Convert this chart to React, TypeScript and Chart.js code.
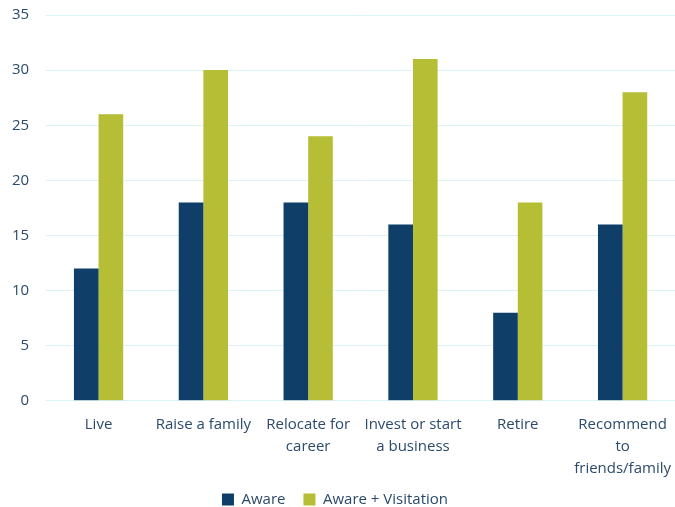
import React, { useEffect, useRef } from "react";
import { Chart, registerables } from "chart.js";

Chart.register(...registerables);

const categories: (string | string[])[] = [
  "Live",
  "Raise a family",
  ["Relocate for", "career"],
  ["Invest or start", "a business"],
  "Retire",
  ["Recommend", "to", "friends/family"],
];
const aware = [12, 18, 18, 16, 8, 16];
const awareVisitation = [26, 30, 24, 31, 18, 28];
const seriesNames = ["Aware", "Aware + Visitation"];

const FONT = "'Open Sans', 'Noto Sans', sans-serif";
const TEXT = "#2b4a6b";
const LEGEND_SHRINK = 19;

const legendShrink = {
  id: "legendShrink",
  afterInit(chart: any) {
    const lg = chart.legend;
    if (!lg) return;
    const orig = lg.fit;
    lg.fit = function (this: any) {
      orig.call(this);
      this.height = Math.max(0, this.height - LEGEND_SHRINK);
    };
  },
  afterLayout(chart: any) {
    const lg = chart.legend;
    if (!lg) return;
    lg.top -= LEGEND_SHRINK;
    lg.height += LEGEND_SHRINK;
    if (lg.adjustHitBoxes) lg.adjustHitBoxes();
  },
};

export default function App() {
  const ref = useRef<HTMLCanvasElement | null>(null);
  useEffect(() => {
    if (!ref.current) return;
    const chart = new Chart(ref.current, {
      type: "bar",
      data: {
        labels: categories,
        datasets: [
          {
            label: seriesNames[0],
            data: aware,
            backgroundColor: "#0f3f68",
            borderWidth: 0,
            categoryPercentage: 0.47,
            barPercentage: 1,
          },
          {
            label: seriesNames[1],
            data: awareVisitation,
            backgroundColor: "#b5be35",
            borderWidth: 0,
            categoryPercentage: 0.47,
            barPercentage: 1,
          },
        ],
      },
      plugins: [legendShrink],
      options: {
        animation: false,
        responsive: false,
        maintainAspectRatio: false,
        layout: { padding: { top: 0, right: 0, left: -5, bottom: -10 } },
        plugins: {
          legend: {
            position: "bottom",
            labels: {
              boxWidth: 12,
              boxHeight: 12,
              padding: 18,
              color: TEXT,
              font: { family: FONT, size: 15 },
            },
          },
          tooltip: { enabled: false },
        },
        scales: {
          x: {
            grid: { display: false, drawTicks: false },
            border: { display: false },
            ticks: {
              color: TEXT,
              font: { family: FONT, size: 15, lineHeight: 1.47 },
              maxRotation: 0,
              autoSkip: false,
              padding: 13,
            },
            afterFit: (s: any) => {
              s.paddingRight = 0;
              s.paddingLeft = 0;
            },
          },
          y: {
            min: 0,
            max: 35,
            ticks: {
              stepSize: 5,
              color: TEXT,
              font: { family: FONT, size: 15 },
              padding: 17,
            },
            grid: { color: "#dbf3f8", lineWidth: 1, drawTicks: false },
            border: { display: false },
            afterFit: (s: any) => {
              s.paddingTop = 15;
              s.paddingBottom = 0;
            },
          },
        },
      },
    });
    return () => chart.destroy();
  }, []);
  return (
    <div style={{ position: "absolute", left: 0, top: 0, width: 675, height: 507 }}>
      <canvas ref={ref} width={675} height={507} />
    </div>
  );
}
